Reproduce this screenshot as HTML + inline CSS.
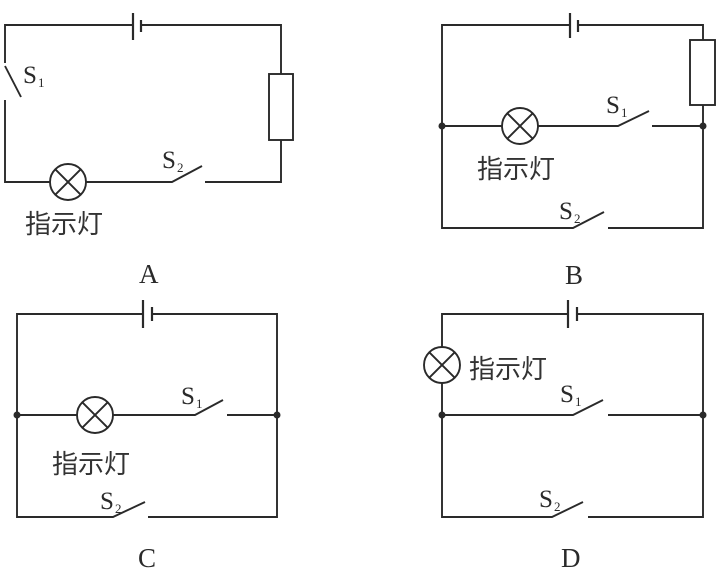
<!DOCTYPE html>
<html><head><meta charset="utf-8"><style>
html,body{margin:0;padding:0;background:#fff;}
svg{display:block;}
.w{stroke:#2a2a2a;stroke-width:1.9;fill:none;}
.t{font-family:"Liberation Serif",serif;fill:#2a2a2a;}
.c{font-family:"Liberation Sans","Noto Sans CJK SC",sans-serif;fill:#333;font-size:26px;}
</style></head><body>
<svg width="723" height="574" viewBox="0 0 723 574" xmlns="http://www.w3.org/2000/svg">
<defs>
<g id="lamp"><circle r="18" class="w"/><path class="w" d="M-12.7,-12.7L12.7,12.7M-12.7,12.7L12.7,-12.7"/></g>
</defs>
<!-- A -->
<path class="w" d="M133,25H5V63M5,66L21,97M5,100V182H50M86,182H172L202,166M205,182H281V140M281,74V25H141"/>
<path class="w" d="M133,13V40M141,20V32" style="stroke-width:2.2"/>
<rect x="269" y="74" width="24" height="66" class="w"/>
<use href="#lamp" x="68" y="182"/>
<text class="t" x="23" y="83" font-size="25">S</text><text class="t" x="38" y="87" font-size="13">1</text>
<text class="t" x="162" y="168" font-size="25">S</text><text class="t" x="177" y="172" font-size="13">2</text>
<text class="c" x="25" y="233">指示灯</text>
<text class="t" x="139" y="283" font-size="27">A</text>
<!-- B -->
<path class="w" d="M570,25H442V228H573L604,212M608,228H703V105M703,40V25H578M442,126H502M538,126H618L649,111M652,126H703"/>
<path class="w" d="M570,13V38M578,20V32" style="stroke-width:2.2"/>
<rect x="690" y="40" width="25" height="65" class="w"/>
<use href="#lamp" x="520" y="126"/>
<circle cx="442" cy="126" r="3.5" fill="#2a2a2a"/><circle cx="703" cy="126" r="3.5" fill="#2a2a2a"/>
<text class="t" x="606" y="113" font-size="25">S</text><text class="t" x="621" y="117" font-size="13">1</text>
<text class="t" x="559" y="219" font-size="25">S</text><text class="t" x="574" y="223" font-size="13">2</text>
<text class="c" x="477" y="178">指示灯</text>
<text class="t" x="565" y="284" font-size="27">B</text>
<!-- C -->
<path class="w" d="M143,314H17V517H113L145,502M148,517H277V314H152M17,415H77M113,415H195L223,400M227,415H277"/>
<path class="w" d="M143,300V328M152,307V321" style="stroke-width:2.2"/>
<use href="#lamp" x="95" y="415"/>
<circle cx="17" cy="415" r="3.5" fill="#2a2a2a"/><circle cx="277" cy="415" r="3.5" fill="#2a2a2a"/>
<text class="t" x="181" y="404" font-size="25">S</text><text class="t" x="196" y="408" font-size="13">1</text>
<text class="t" x="100" y="509" font-size="25">S</text><text class="t" x="115" y="513" font-size="13">2</text>
<text class="c" x="52" y="473">指示灯</text>
<text class="t" x="138" y="567" font-size="27">C</text>
<!-- D -->
<path class="w" d="M568,314H442V347M442,383V517H552L583,502M588,517H703V314H577M442,415H573L603,400M608,415H703"/>
<path class="w" d="M568,300V328M577,307V321" style="stroke-width:2.2"/>
<use href="#lamp" x="442" y="365"/>
<circle cx="442" cy="415" r="3.5" fill="#2a2a2a"/><circle cx="703" cy="415" r="3.5" fill="#2a2a2a"/>
<text class="t" x="560" y="402" font-size="25">S</text><text class="t" x="575" y="406" font-size="13">1</text>
<text class="t" x="539" y="507" font-size="25">S</text><text class="t" x="554" y="511" font-size="13">2</text>
<text class="c" x="469" y="378">指示灯</text>
<text class="t" x="561" y="567" font-size="27">D</text>
</svg>
</body></html>
